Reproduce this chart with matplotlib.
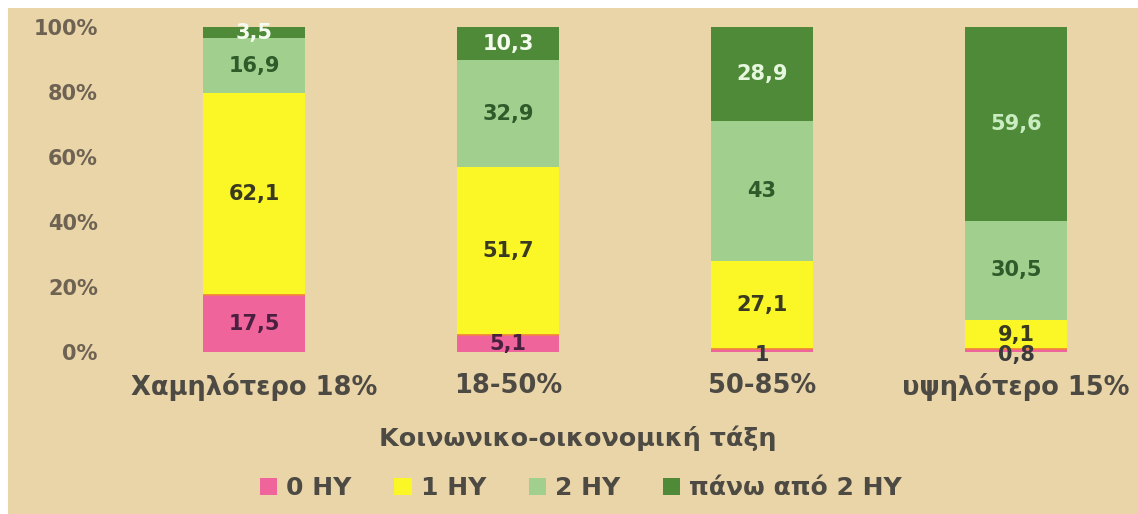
import matplotlib
matplotlib.use('Agg')
import matplotlib.pyplot as plt
import numpy as np

categories = ['Χαμηλότερο 18%', '18-50%', '50-85%', 'υψηλότερο 15%']
series_names = ['0 HY', '1 HY', '2 HY', 'πάνω από 2 HY']
zero_pc = [17.5, 5.1, 1.0, 0.8]
one_pc = [62.1, 51.7, 27.1, 9.1]
two_pc = [16.9, 32.9, 43.0, 30.5]
more_pc = [3.5, 10.3, 28.9, 59.6]
value_labels = [
    ['17,5', '5,1', '1', '0,8'],
    ['62,1', '51,7', '27,1', '9,1'],
    ['16,9', '32,9', '43', '30,5'],
    ['3,5', '10,3', '28,9', '59,6'],
]
y_ticks = [0, 20, 40, 60, 80, 100]
x_title = 'Κοινωνικο-οικονομική τάξη'

colors = ['#f0649c', '#fbf625', '#a0cf8e', '#4e8a37']
label_colors = [
    ['#4a2040', '#4a2040', '#3a3a3a', '#3a3a3a'],
    ['#3a3a20', '#3a3a20', '#3a3a20', '#3a3a20'],
    ['#2f5a2a', '#2f5a2a', '#2f5a2a', '#2f5a2a'],
    ['#f4fbef', '#f4fbef', '#e6f7de', '#c9ecc0'],
]

plt.rcParams['font.family'] = ['DejaVu Sans']
bg = '#ead5a8'

fig = plt.figure(figsize=(11.38, 5.14), dpi=100)
fig.patch.set_facecolor('white')
fig.patches.append(plt.Rectangle((8 / 1138, 0), 1, 1 - 8 / 514, transform=fig.transFigure,
                                 facecolor=bg, edgecolor='none', zorder=-10))

ax = fig.add_axes([127 / 1138, 1 - 352 / 514, 1011 / 1138, 325 / 514])
ax.set_facecolor('none')

x = np.arange(len(categories))
series = [zero_pc, one_pc, two_pc, more_pc]
bottom = np.zeros(len(categories))
for i, vals in enumerate(series):
    vals = np.array(vals)
    ax.bar(x, vals, 0.4, bottom=bottom, color=colors[i], label=series_names[i], zorder=2)
    for j in range(len(categories)):
        yc = bottom[j] + vals[j] / 2
        if vals[j] < 2:
            yc = bottom[j] - 0.8
        ax.text(x[j], yc, value_labels[i][j], ha='center', va='center', fontsize=15,
                fontweight='bold', color=label_colors[i][j], zorder=3, clip_on=False)
    bottom += vals

# thin orange line between pink and yellow segments
ax.hlines(zero_pc, x - 0.2, x + 0.2, color='#f08040', lw=1.2, zorder=2.5)

ax.set_xlim(-0.5, 3.48)
ax.set_ylim(0, 100)
ax.set_yticks(y_ticks)
ax.set_yticklabels([f'{t}%' for t in y_ticks], fontsize=15, fontweight='bold', color='#6e6253')
ax.set_xticks(x)
ax.set_xticklabels(categories, fontsize=18.5, fontweight='bold', color='#4d4a44')
ax.tick_params(axis='both', length=0)
ax.tick_params(axis='y', pad=21)
ax.tick_params(axis='x', pad=15)
for s in ax.spines.values():
    s.set_visible(False)

fig.text(578 / 1138, 1 - 438 / 514, x_title, ha='center', va='center', fontsize=18.3,
         fontweight='bold', color='#4d4a44')

handles, labels = ax.get_legend_handles_labels()
leg = fig.legend(handles, labels, loc='center', bbox_to_anchor=(581 / 1138, 1 - 488 / 514),
                 ncol=4, frameon=False, fontsize=18, handlelength=0.7, handleheight=0.7,
                 handletextpad=0.36, columnspacing=1.7)
for t in leg.get_texts():
    t.set_color('#4d4a44')
    t.set_fontweight('bold')

fig.savefig('out.png', dpi=100, facecolor=fig.get_facecolor())
